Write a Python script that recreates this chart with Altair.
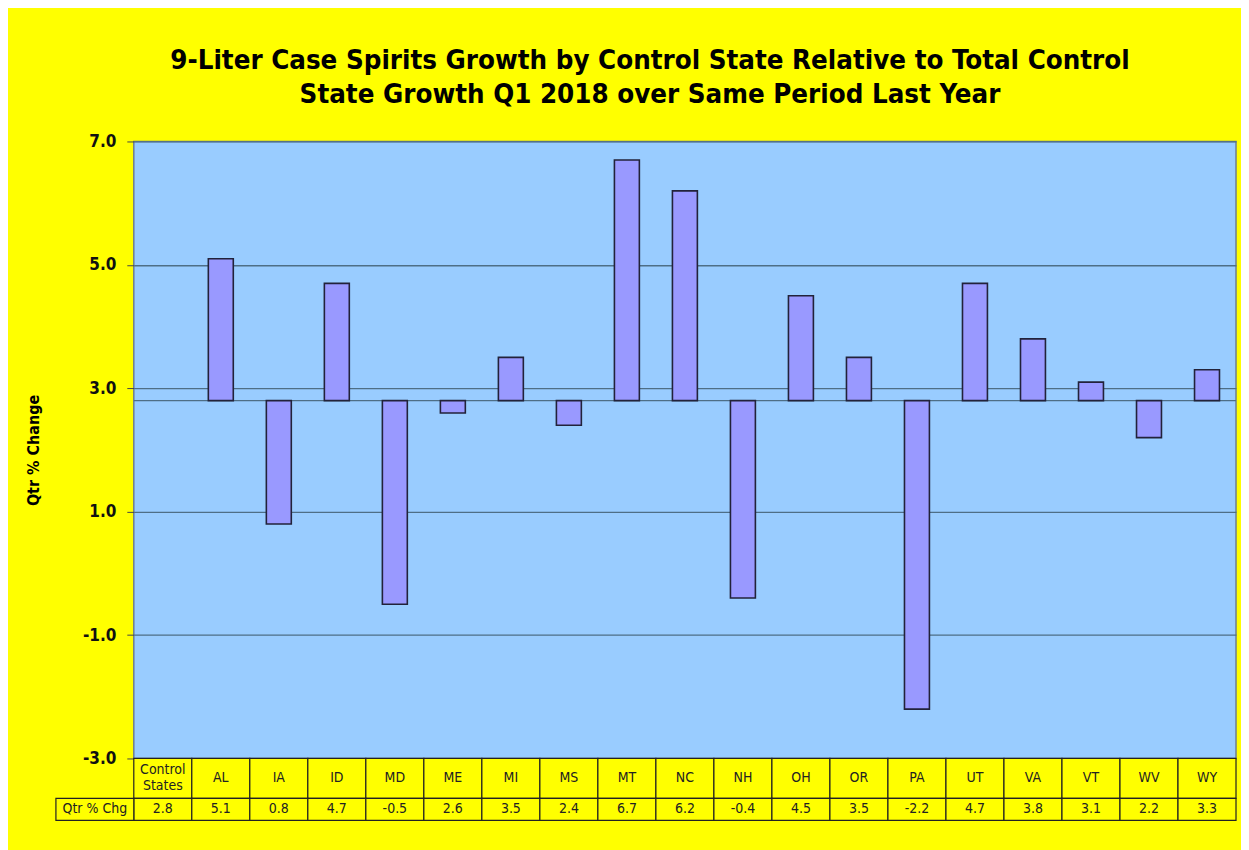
import altair as alt
import pandas as pd

categories = ["Control States", "AL", "IA", "ID", "MD", "ME", "MI", "MS", "MT", "NC",
              "NH", "OH", "OR", "PA", "UT", "VA", "VT", "WV", "WY"]
header_labels = ["Control\nStates", "AL", "IA", "ID", "MD", "ME", "MI", "MS", "MT", "NC",
                 "NH", "OH", "OR", "PA", "UT", "VA", "VT", "WV", "WY"]
values = [2.8, 5.1, 0.8, 4.7, -0.5, 2.6, 3.5, 2.4, 6.7, 6.2,
          -0.4, 4.5, 3.5, -2.2, 4.7, 3.8, 3.1, 2.2, 3.3]
y_ticks = [-3.0, -1.0, 1.0, 3.0, 5.0, 7.0]
row_label = "Qtr % Chg"
title_lines = ["9-Liter Case Spirits Growth by Control State Relative to Total Control",
               "State Growth Q1 2018 over Same Period Last Year"]

base = values[0]
df = pd.DataFrame({"cat": categories, "label": header_labels, "value": values})
df["base"] = base
df["vtxt"] = [f"{v:.1f}" for v in values]
df["multi"] = df["label"].str.contains("\n")

YELLOW = "#FFFF00"
FONT = "DejaVu Sans Condensed, Liberation Sans, sans-serif"
W = 1104

xenc = alt.X("cat:N", sort=categories, axis=None,
             scale=alt.Scale(domain=categories, paddingInner=0, paddingOuter=0))

bars = alt.Chart(df).transform_filter(
    alt.datum.cat != categories[0]
).mark_bar(
    fill="#9999FF", stroke="#22223A", strokeWidth=1.6, width={"band": 0.43}
).encode(
    x=xenc,
    y=alt.Y("value:Q", scale=alt.Scale(domain=[-3, 7], nice=False, zero=False),
            axis=alt.Axis(values=y_ticks, title="Qtr % Change",
                          labelExpr="replace(format(datum.value, '.1f'), '\u2212', '-')",
                          grid=True, gridColor="#4E6E86", gridWidth=1.3,
                          domain=False, tickColor="#444444", tickSize=7,
                          labelPadding=11, labelFont=FONT, labelFontSize=17,
                          labelFontWeight="bold", labelColor="#111111",
                          titleFont=FONT, titleFontSize=16, titleFontWeight="bold",
                          titleColor="#000000", titlePadding=41)),
    y2="base:Q",
)

rule = alt.Chart(pd.DataFrame({"base": [base]})).mark_rule(
    color="#4E6E86", strokeWidth=1.3
).encode(y="base:Q")

top = alt.layer(rule, bars).properties(
    width=W, height=618,
    view=alt.ViewConfig(fill="#99CCFF", stroke="#6E7E8E", strokeWidth=1.5),
)

H1, H2 = 40, 62
cells_h = alt.Chart(df).mark_rect(fill=YELLOW, stroke="#222222", strokeWidth=1.2).encode(
    x=xenc, y=alt.value(0), y2=alt.value(H1))
cells_v = alt.Chart(df).mark_rect(fill=YELLOW, stroke="#222222", strokeWidth=1.2).encode(
    x=xenc, y=alt.value(H1), y2=alt.value(H2))
txt_h1 = alt.Chart(df).transform_filter(~alt.datum.multi).mark_text(
    font=FONT, fontSize=14, color="#222222", baseline="middle").encode(
    x=xenc, y=alt.value(H1 / 2), text="label:N")
txt_h2 = alt.Chart(df).transform_filter(alt.datum.multi).mark_text(
    font=FONT, fontSize=14, color="#222222", lineBreak="\n", lineHeight=16,
    baseline="middle", dy=-8).encode(
    x=xenc, y=alt.value(H1 / 2), text="label:N")
txt_v = alt.Chart(df).mark_text(font=FONT, fontSize=14, color="#222222",
                                baseline="middle").encode(
    x=xenc, y=alt.value((H1 + H2) / 2), text="vtxt:N")
lab_df = pd.DataFrame({"t": [row_label]})
lab_cell = alt.Chart(lab_df).mark_rect(fill=YELLOW, stroke="#222222", strokeWidth=1.2).encode(
    x=alt.value(-78), x2=alt.value(0), y=alt.value(H1), y2=alt.value(H2))
lab_txt = alt.Chart(lab_df).mark_text(font=FONT, fontSize=14, color="#222222",
                                      baseline="middle").encode(
    x=alt.value(-39), y=alt.value((H1 + H2) / 2), text="t:N")

table = alt.layer(cells_h, cells_v, txt_h1, txt_h2, txt_v, lab_cell, lab_txt).properties(
    width=W, height=H2, view=alt.ViewConfig(stroke=None, fill=None))

chart = alt.vconcat(top, table, spacing=0, bounds="flush").properties(
    title=alt.TitleParams(title_lines, font=FONT, fontSize=27.5, fontWeight="bold",
                          color="#000000", lineHeight=34, anchor="middle", frame="group",
                          dx=-35, offset=23),
    background=YELLOW,
    padding={"left": 16, "top": 38, "right": 3, "bottom": 29},
).configure_view(stroke=None)

chart.save("out.html", embed_options={"renderer": "svg", "actions": False})
